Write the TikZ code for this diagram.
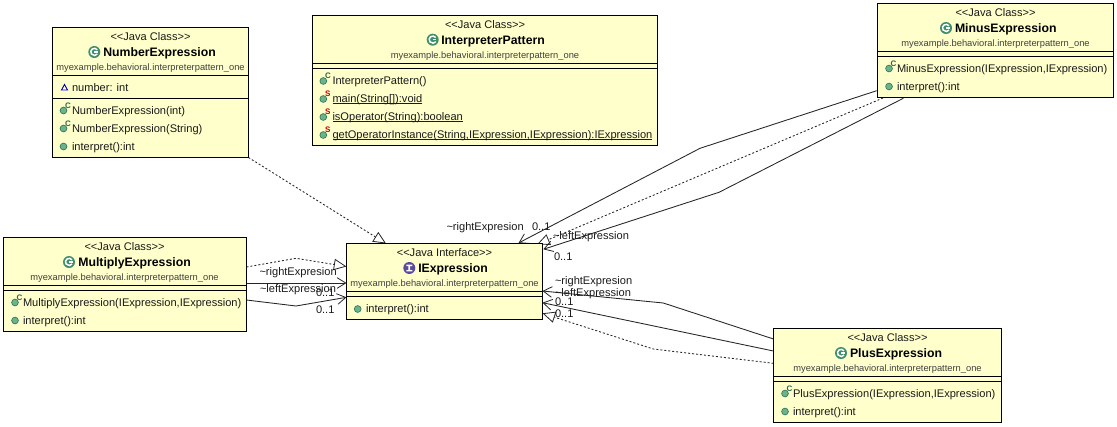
\documentclass[tikz,border=0pt]{standalone}
\usepackage{fontspec}
\setmainfont{Liberation Sans}
\usetikzlibrary{arrows.meta,calc,backgrounds}
\definecolor{boxfill}{HTML}{FFFFCC}
\definecolor{icongreen}{HTML}{3F8F6C}
\definecolor{iconlight}{HTML}{6DB38A}
\definecolor{iconedge}{HTML}{2F7A5C}
\definecolor{iconpurple}{HTML}{5B4A9E}
\definecolor{pkggrey}{HTML}{404040}
\definecolor{txtcol}{HTML}{1A1A1A}
\tikzset{
  x=0.75pt,y=-0.75pt,
  umlbox/.style={draw=black,line width=0.9pt,fill=boxfill,inner sep=0pt,outer sep=0pt},
  sepline/.style={line width=0.9pt,draw=black},
  lab/.style={font=\fontsize{8.3pt}{10pt}\selectfont,text=txtcol,inner sep=0pt,outer sep=0pt},
  stereo/.style={lab,anchor=base},
  titletxt/.style={font=\fontsize{9.2pt}{11pt}\selectfont\bfseries,text=black,inner sep=0pt,outer sep=0pt,anchor=base west},
  pkg/.style={font=\fontsize{7pt}{8pt}\selectfont,text=pkggrey,inner sep=0pt,outer sep=0pt,anchor=base},
  memb/.style={lab,anchor=base west},
  rel/.style={line width=0.65pt,draw=black!85},
  assoc/.style={rel,-{Straight Barb[length=6.5pt,width=8pt,line width=0.6pt]}},
  realize/.style={rel,dash pattern=on 1.5pt off 1.5pt,-{Triangle[open,fill=white,length=9.5pt,width=8.5pt,line width=0.6pt,sep=0pt]}},
  endlab/.style={lab,anchor=base west},
}
% name, x0, y0, x1, y1, sep1, sep2
\newcommand\umlclass[7]{%
  \pgfmathsetmacro\bw{(#4-#2)*0.75}\pgfmathsetmacro\bh{(#5-#3)*0.75}%
  \node[umlbox,anchor=north west,minimum width=\bw pt,minimum height=\bh pt] (#1) at (#2,#3) {};
  \draw[sepline] ($(#1.north west)+(0,#6-#3)$) -- ($(#1.north east)+(0,#6-#3)$);
  \draw[sepline] ($(#1.north west)+(0,#7-#3)$) -- ($(#1.north east)+(0,#7-#3)$);
}
\newcommand\classicon[2]{%
  \fill[icongreen] (#1,#2) circle[radius=6];
  \draw[white,line width=1.1pt] ($(#1,#2)+(3,-2.2)$) arc[start angle=-36,end angle=-324,radius=3.6];
  \draw[white,line width=0.8pt] (#1,#2) -- ($(#1,#2)+(3.5,0)$);
}
\newcommand\mdot[2]{%
  \fill[iconlight,draw=iconedge,line width=0.5pt] (#1,#2) circle[radius=3.4];
}
\newcommand\markC[3]{\node[inner sep=0pt,text=icongreen!70!black,font=\fontsize{6pt}{6pt}\selectfont\bfseries] (#3) at (#1+4.6,#2-5.2) {C};}
\newcommand\markS[3]{\node[inner sep=0pt,text=red!75!black,font=\fontsize{6pt}{6pt}\selectfont\bfseries] (#3) at (#1+4.6,#2-5.2) {S};}
\newcommand\uln[1]{\setbox0\hbox{#1}\rlap{\rule[-1pt]{\wd0}{0.5pt}}\box0 }
\begin{document}
\begin{tikzpicture}
\useasboundingbox (0,0) rectangle (1117,426);
% boxes
\umlclass{numb}{52.5}{27.5}{248.5}{157.5}{75.5}{98.5}
\umlclass{intp}{312.5}{15.5}{657.5}{145.5}{63.5}{68.5}
\umlclass{iex}{346.5}{243.5}{542.5}{319.5}{291.5}{296.5}
\umlclass{mult}{3.5}{237.5}{246.5}{331.5}{285.5}{290.5}
\umlclass{minb}{877.5}{3.5}{1113.5}{97.5}{51.5}{56.5}
\umlclass{plub}{773.5}{328.5}{1001.5}{422.5}{376.5}{381.5}
% connectors, beneath the boxes
\begin{scope}[on background layer]
\draw[realize] (numb.south east) -- ($(iex.north west)+(39.5,0)$);
\draw[realize] ($(mult.north east)+(0,29.5)$) -- ($(mult.north east)+(49.5,20.8)$) -- ($(iex.north west)+(0,23)$);
\draw[assoc] ($(mult.north east)+(0,45.5)$) -- ($(iex.north west)+(0,39.5)$);
\draw[assoc] ($(mult.north east)+(0,62.5)$) -- ($(mult.north east)+(49.5,68.5)$) -- ($(iex.north west)+(0,53.8)$);
\draw[assoc] ($(minb.south west)+(-0.8,-6.8)$) -- ($(minb.south west)+(-177.5,50.8)$) -- ($(iex.north west)+(172,-0.5)$);
\draw[realize] ($(minb.south west)+(5.5,0.5)$) -- ($(iex.north east)+(-5.5,1)$);
\draw[assoc] ($(minb.south west)+(25.8,0.8)$) -- ($(minb.south west)+(-158.5,94.8)$) -- ($(iex.north east)+(0.8,5.8)$);
\draw[assoc] ($(plub.north west)+(0,10.5)$) -- ($(plub.north west)+(-110.2,-25.5)$) -- ($(iex.south east)+(0,-28.5)$);
\draw[assoc] ($(plub.north west)+(0,22.5)$) -- ($(iex.south east)+(0,-16.8)$);
\draw[realize] ($(plub.north west)+(0,34.8)$) -- ($(plub.north west)+(-120.2,20.5)$) -- ($(iex.south east)+(0,-6.2)$);
\end{scope}
% NumberExpression
\node[stereo] (n1) at (150.5,40) {<{}<Java Class>{}>};
\classicon{94.3}{52}
\node[titletxt] (n2) at (103.3,56.3) {NumberExpression};
\node[pkg] (n3) at (150.5,70.7) {myexample.behavioral.interpreterpattern\_one};
\fill[white,draw=blue!70!black,line width=0.7pt] (61.5,90) -- (67.5,90) -- (64.5,84.5) -- cycle;
\node[memb] (n4) at (72,91) {number: int};
\mdot{63.5}{110.5}\markC{63.5}{110.5}{n5c}
\node[memb] (n5) at (72,114) {NumberExpression(int)};
\mdot{63.5}{128.5}\markC{63.5}{128.5}{n6c}
\node[memb] (n6) at (72,132) {NumberExpression(String)};
\mdot{63.5}{146.5}
\node[memb] (n7) at (72,150) {interpret():int};
% InterpreterPattern
\node[stereo] (p1) at (485,28) {<{}<Java Class>{}>};
\classicon{432.7}{39.7}
\node[titletxt] (p2) at (441.3,44) {InterpreterPattern};
\node[pkg] (p3) at (485,58) {myexample.behavioral.interpreterpattern\_one};
\mdot{323.3}{81}\markC{323.3}{81}{p4c}
\node[memb] (p4) at (332.5,84.5) {InterpreterPattern()};
\mdot{323.3}{99}\markS{323.3}{99}{p5c}
\node[memb] (p5) at (332.5,102.5) {\uln{main(String[]):void}};
\mdot{323.3}{117}\markS{323.3}{117}{p6c}
\node[memb] (p6) at (332.5,120.5) {\uln{isOperator(String):boolean}};
\mdot{323.3}{135}\markS{323.3}{135}{p7c}
\node[memb] (p7) at (332.5,138.5) {\uln{getOperatorInstance(String,IExpression,IExpression):IExpression}};
% IExpression
\node[stereo] (i1) at (444.5,256) {<{}<Java Interface>{}>};
\fill[iconpurple] (409.3,268) circle[radius=6];
\fill[white] (406.3,264.6) rectangle (412.3,266) (408.4,264.6) rectangle (410.2,271.4) (406.3,270) rectangle (412.3,271.4);
\node[titletxt] (i2) at (418.3,272.3) {IExpression};
\node[pkg] (i3) at (444.5,286) {myexample.behavioral.interpreterpattern\_one};
\mdot{357.7}{309}
\node[memb] (i4) at (366,312.7) {interpret():int};
% MultiplyExpression
\node[stereo] (m1) at (124.5,250) {<{}<Java Class>{}>};
\classicon{69}{262}
\node[titletxt] (m2) at (78.3,266.3) {MultiplyExpression};
\node[pkg] (m3) at (124.5,280) {myexample.behavioral.interpreterpattern\_one};
\mdot{15}{302.5}\markC{15}{302.5}{m4c}
\node[memb] (m4) at (23,306) {MultiplyExpression(IExpression,IExpression)};
\mdot{15}{320.5}
\node[memb] (m5) at (23,324) {interpret():int};
% MinusExpression
\node[stereo] (d1) at (995.5,16) {<{}<Java Class>{}>};
\classicon{946}{28}
\node[titletxt] (d2) at (955,32.3) {MinusExpression};
\node[pkg] (d3) at (995.5,46) {myexample.behavioral.interpreterpattern\_one};
\mdot{889}{68.5}\markC{889}{68.5}{d4c}
\node[memb] (d4) at (897,72) {MinusExpression(IExpression,IExpression)};
\mdot{889}{86.5}
\node[memb] (d5) at (897,90) {interpret():int};
% PlusExpression
\node[stereo] (s1) at (887.5,341) {<{}<Java Class>{}>};
\classicon{841}{353}
\node[titletxt] (s2) at (850,357.3) {PlusExpression};
\node[pkg] (s3) at (887.5,371) {myexample.behavioral.interpreterpattern\_one};
\mdot{785}{393.5}\markC{785}{393.5}{s4c}
\node[memb] (s4) at (793,397) {PlusExpression(IExpression,IExpression)};
\mdot{785}{411.5}
\node[memb] (s5) at (793,415) {interpret():int};
% association end labels
\node[endlab] (a1) at (446.5,230) {\textasciitilde rightExpresion};
\node[endlab] (a2) at (532,230.5) {0..1};
\node[endlab] (a3) at (553,239) {\textasciitilde leftExpression};
\node[endlab] (a4) at (554,260) {0..1};
\node[endlab] (a5) at (555,284) {\textasciitilde rightExpresion};
\node[endlab] (a6) at (555,296) {\textasciitilde leftExpression};
\node[endlab] (a7) at (555,305) {0..1};
\node[endlab] (a8) at (555,317) {0..1};
\node[endlab] (a9) at (259.5,275) {\textasciitilde rightExpresion};
\node[endlab] (a10) at (260,292) {\textasciitilde leftExpression};
\node[endlab] (a11) at (316,296) {0..1};
\node[endlab] (a12) at (316,313) {0..1};
\end{tikzpicture}
\end{document}
